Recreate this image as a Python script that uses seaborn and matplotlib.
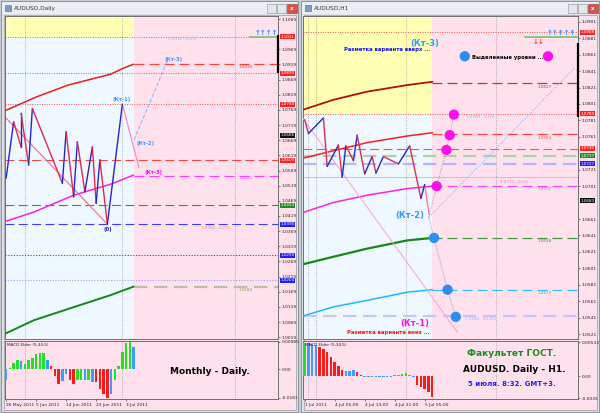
import matplotlib

matplotlib.use("Agg")

import matplotlib.pyplot as plt
import matplotlib.transforms as mtransforms
import pandas as pd
import seaborn as sns
from matplotlib.patches import Rectangle

W, H = 600, 413

PINK = "#ffe1ee"
YELLOW = "#ffffb4"
ICE = "#eff7ff"
GRID = "#777777"
ZZ_UP = "#2626c8"
ZZ_DOWN = "#dc2a55"
IMPULSE_COLORS = {"g": "#22e022", "r": "#ff1a1a", "b": "#3b9cff"}

# ---------------- daily window ----------------
D_DATE_TICKS = [0, 8, 16, 24, 32]
D_DATE_LABELS = ["26 May 2011", "5 Jun 2011", "14 Jun 2011", "23 Jun 2011", "3 Jul 2011"]
D_GRID_X = [5, 31, 61]
# 1.1019 sits under the 1.1011 price tag in the original, so it is left out
D_PRICE_TICKS = [1.1069, 1.0969, 1.0919, 1.0869, 1.0819, 1.0769, 1.0719, 1.0669, 1.0619,
                 1.0569, 1.0519, 1.0469, 1.0419, 1.0369, 1.0319, 1.0269, 1.0219, 1.0169, 1.0119,
                 1.0069, 1.0019]

D_ZZ_X = [0, 2, 4, 4, 6, 7, 15, 16, 18, 19, 21, 23, 24, 25, 27, 31]
D_ZZ_Y = [1.0544, 1.0730, 1.0647, 1.0758, 1.0587, 1.0774, 1.0527, 1.0697, 1.0482, 1.0664,
          1.0499, 1.0647, 1.0461, 1.0604, 1.0392, 1.0788]

D_RED_X = [0, 7.9, 16.5, 27.9, 31.1, 34]
D_RED_Y = [1.0768, 1.0811, 1.0851, 1.0887, 1.0906, 1.0920]
D_MAG_X = [0, 7.4, 18.1, 27.9, 34]
D_MAG_Y = [1.0402, 1.0432, 1.0488, 1.0524, 1.0554]
D_GRN_X = [0, 7.4, 16.5, 27.9, 34]
D_GRN_Y = [1.0032, 1.0075, 1.0112, 1.0158, 1.0186]

D_TREND_X = [0, 27]
D_TREND_Y = [1.0742, 1.0392]
D_PROJ_X = [31, 33, 35.4]
D_PROJ_Y = [1.0788, 1.0693, 1.0580]
D_UPLEG_X = [34.1, 43.1]
D_UPLEG_Y = [1.0670, 1.0934]

D_MACD = [-0.0040, 0.0004, 0.0023, 0.0033, 0.0030, 0.0018, 0.0035, 0.0039, 0.0055, 0.0060,
          0.0060, 0.0033, 0.0012, -0.0026, -0.0052, -0.0044, -0.0016, -0.0038, -0.0052, -0.0038,
          -0.0038, -0.0040, -0.0038, -0.0046, -0.0046, -0.0071, -0.0089, -0.0103, -0.0089, -0.0038,
          0.0011, 0.0063, 0.0094, 0.0100, 0.0081]
D_IMPULSE = ["b", "g", "g", "g", "b", "g", "g", "g", "g", "g",
             "g", "b", "r", "r", "r", "b", "b", "r", "r", "g",
             "g", "b", "g", "b", "r", "r", "r", "r", "b", "g",
             "g", "g", "g", "g", "b"]

# ---------------- H1 window ----------------
H_DATE_TICKS = [0, 8, 16, 24, 32]
H_DATE_LABELS = ["1 Jul 2011", "4 Jul 05:00", "4 Jul 13:00", "4 Jul 21:00", "5 Jul 05:00"]
H_GRID_X = [1, 3, 27, 51]
# 1.0741 and 1.0681 are hidden under price tags in the original
H_PRICE_TICKS = [1.0901, 1.0881, 1.0861, 1.0841, 1.0821, 1.0801, 1.0781, 1.0761, 1.0721,
                 1.0701, 1.0661, 1.0641, 1.0621, 1.0601, 1.0581, 1.0561, 1.0541, 1.0521]

H_ZZ_X = [0, 1, 5, 6, 9, 10, 11, 13, 14, 16, 18, 19, 21, 25, 28, 31, 32]
H_ZZ_Y = [1.0782, 1.0765, 1.0784, 1.0725, 1.0751, 1.0712, 1.0750, 1.0732, 1.0763, 1.0716,
          1.0737, 1.0717, 1.0737, 1.0728, 1.0750, 1.0686, 1.0703]

H_MA_X = [-0.4, 7.6, 16.7, 27.4, 34.1]
H_MAROON_Y = [1.0794, 1.0806, 1.0816, 1.0824, 1.0828]
H_RED_Y = [1.0735, 1.0744, 1.0754, 1.0762, 1.0766]
H_MAG_Y = [1.0669, 1.0681, 1.0690, 1.0698, 1.0701]
H_GRN_Y = [1.0606, 1.0615, 1.0625, 1.0635, 1.0638]
H_SKY_Y = [1.0543, 1.0554, 1.0562, 1.0572, 1.0575]

H_TREND_X = [-0.4, 40.8]
H_TREND_Y = [1.0783, 1.0523]
H_PROJ_X = [32, 33.2]
H_PROJ_Y = [1.0703, 1.0666]
H_UPLEG_X = [33.1, 72]
H_UPLEG_Y = [1.0663, 1.0845]
H_PATH_UP_X = [33.1, 35.2, 37.8, 38.7, 39.8]
H_PATH_UP_Y = [1.0663, 1.0701, 1.0745, 1.0763, 1.0788]
H_PATH_DN_X = [33.1, 34.5, 38.1, 40.3]
H_PATH_DN_Y = [1.0663, 1.0638, 1.0575, 1.0542]
H_MAG_DOT_X = [35.2, 37.8, 38.7, 39.8, 64.9]
H_MAG_DOT_Y = [1.0701, 1.0745, 1.0763, 1.0788, 1.0859]
H_BLUE_DOT_X = [34.5, 38.1, 40.3, 42.7]
H_BLUE_DOT_Y = [1.0638, 1.0575, 1.0542, 1.0859]

H_MACD = [0.0052, 0.0052, 0.0050, 0.0048, 0.0046, 0.0043, 0.0038, 0.0030, 0.0022, 0.0016,
          0.0010, 0.0008, 0.0008, 0.0009, 0.0006, 0.0002, -0.0001, -0.0001, -0.0002, -0.0002,
          -0.0001, -0.0001, -0.0002, -0.0001, 0.0001, 0.0002, 0.0004, 0.0005, 0.0002, -0.0001,
          -0.0014, -0.0017, -0.0020, -0.0025, -0.0033]
H_IMPULSE = ["g", "b", "b", "b", "r", "r", "r", "r", "r", "r",
             "r", "b", "b", "b", "r", "r", "b", "b", "b", "b",
             "b", "b", "b", "b", "g", "g", "g", "g", "g", "b",
             "r", "r", "r", "r", "r"]

sns.set_theme(style="white")
plt.rcParams["font.family"] = ["DejaVu Sans"]

fig = plt.figure(figsize=(W / 100, H / 100), dpi=100)
fig.patch.set_facecolor("#c9ced6")


def px_box(x0, y0, x1, y1):
    return [x0 / W, 1 - y1 / H, (x1 - x0) / W, (y1 - y0) / H]


def fig_rect(x0, y0, x1, y1, **kw):
    l, b, w, h = px_box(x0, y0, x1, y1)
    fig.add_artist(Rectangle((l, b), w, h, transform=fig.transFigure, zorder=-5, **kw))


def fig_text(x, y, s, **kw):
    fig.text(x / W, 1 - y / H, s, zorder=10, **kw)


# window frames
for x0, x1, title in [(1, 298, "AUDUSD,Daily"), (301, 599, "AUDUSD,H1")]:
    fig_rect(x0, 1, x1, 412, facecolor="#dde2e8", edgecolor="#7f8894", lw=0.6)
    fig_rect(x0 + 1, 2, x1 - 1, 14, facecolor="#eaeef3", edgecolor="none")
    fig_rect(x0 + 3, 15, x1 - 2, 410, facecolor=PINK, edgecolor="#9a9a9a", lw=0.5)
    fig_rect(x0 + 4, 5, x0 + 10, 11, facecolor="#7b9cc8", edgecolor="#4a6a98", lw=0.4)
    fig_text(x0 + 13, 8.5, title, fontsize=4.2, color="#333333", va="center")
    fig_rect(x1 - 31, 4, x1 - 22, 13, facecolor="#e4e8ee", edgecolor="#8a8f96", lw=0.4)
    fig_rect(x1 - 21, 4, x1 - 12, 13, facecolor="#e4e8ee", edgecolor="#8a8f96", lw=0.4)
    fig_rect(x1 - 11, 4, x1 - 1, 13, facecolor="#d9534a", edgecolor="#8a3a30", lw=0.4)
    fig_text(x1 - 6, 8.5, "x", fontsize=4, color="white", ha="center", va="center", weight="bold")

axd = fig.add_axes(px_box(5, 16, 278, 339))
axdm = fig.add_axes(px_box(5, 341, 278, 399))
axh = fig.add_axes(px_box(303, 16, 578, 339))
axhm = fig.add_axes(px_box(303, 341, 578, 399))


def style_axes(ax):
    ax.set_facecolor(PINK)
    for s in ax.spines.values():
        s.set_color("#6e6e6e")
        s.set_linewidth(0.7)
    ax.yaxis.tick_right()
    ax.tick_params(axis="both", labelsize=3.2, length=1.5, width=0.4, pad=1.2,
                   colors="#222222", left=False, right=True, bottom=True)


def level(ax, y, color, ls, lw=0.7, start=None):
    x0, x1 = ax.get_xlim()
    ax.hlines(y, x0 if start is None else start, x1, colors=color, linestyles=ls, lw=lw, zorder=2)


def price_tag(ax, y, text, color):
    tr = mtransforms.blended_transform_factory(ax.transAxes, ax.transData)
    ax.text(1.008, y, text, transform=tr, fontsize=3.0, color="white", va="center", ha="left",
            bbox=dict(boxstyle="square,pad=0.12", fc=color, ec="none"), clip_on=False, zorder=6)


def zigzag(ax, xs, ys):
    for i in range(len(xs) - 1):
        c = ZZ_UP if ys[i + 1] > ys[i] else ZZ_DOWN
        ax.plot(xs[i:i + 2], ys[i:i + 2], color=c, lw=1.0, zorder=4)


def macd(ax, values, impulse, ylim, ticks, labels, xticks, xlabels, xlim, grid):
    df = pd.DataFrame({"bar": range(len(values)), "macd": values, "impulse": impulse})
    ax.bar(df["bar"], df["macd"], width=0.65, color=df["impulse"].map(IMPULSE_COLORS),
           linewidth=0, zorder=3)
    style_axes(ax)
    ax.set_xlim(*xlim)
    ax.set_ylim(*ylim)
    ax.set_yticks(ticks, labels)
    ax.set_xticks(xticks, xlabels)
    for lbl in ax.get_xticklabels():
        lbl.set_ha("left")
    for x in grid:
        ax.axvline(x, color=GRID, ls=(0, (1, 2)), lw=0.5, zorder=1)
    ax.text(0.008, 0.96, "MACD Elder (5,34,5)", transform=ax.transAxes, fontsize=3,
            va="top", color="#222222")


def price_frame(ax, xlim, ylim, ticks, split, grid):
    style_axes(ax)
    ax.set_xlim(*xlim)
    ax.set_ylim(*ylim)
    ax.set_yticks(ticks, [f"{t:.4f}" for t in ticks])
    ax.set_xticks([])
    ax.fill_between([xlim[0], 34.0], split, ylim[1], color=YELLOW, zorder=0, lw=0)
    ax.fill_between([xlim[0], 34.0], ylim[0], split, color=ICE, zorder=0, lw=0)
    for x in grid:
        ax.axvline(x, color=GRID, ls=(0, (1, 2)), lw=0.5, zorder=1)


# ================= daily chart =================
D_XLIM = (-0.3, 72.5)
price_frame(axd, D_XLIM, (1.0013, 1.1079), D_PRICE_TICKS, 1.1011, D_GRID_X)

level(axd, 1.1011, "#ff5050", (0, (1, 1.5)))
level(axd, 1.0890, "#ff5050", (0, (1, 1.5)))
level(axd, 1.0788, "#ff5050", (0, (1, 1.5)))
level(axd, 1.0603, "#ff4040", (0, (8, 4)), lw=0.8)
level(axd, 1.0455, "#2f9a2f", (0, (8, 4)), lw=0.8)
level(axd, 1.0392, "#3b3bff", (0, (8, 4)), lw=0.8)
level(axd, 1.0290, "#3b3bff", (0, (1, 1.5)), lw=0.8)
level(axd, 1.0207, "#9c9cff", (0, (1, 1.5)), lw=0.8)
level(axd, 1.0920, "#ff4040", (0, (8, 4)), lw=0.9, start=34)
level(axd, 1.0551, "#ff40ff", (0, (8, 4)), lw=0.9, start=34)
level(axd, 1.0186, "#b9bfae", (0, (6, 3)), lw=1.6, start=34)
axd.hlines(1.1011, 64.8, D_XLIM[1], colors="#88c070", lw=1.3, zorder=3)

sns.lineplot(x=D_RED_X, y=D_RED_Y, color="#ee1c1c", lw=1.1, ax=axd, zorder=3)
sns.lineplot(x=D_MAG_X, y=D_MAG_Y, color="#ff20e0", lw=1.1, ax=axd, zorder=3)
sns.lineplot(x=D_GRN_X, y=D_GRN_Y, color="#138a13", lw=1.4, ax=axd, zorder=3)
axd.plot(D_TREND_X, D_TREND_Y, color="#f06a9a", lw=0.8, zorder=3)
zigzag(axd, D_ZZ_X, D_ZZ_Y)
axd.plot(D_PROJ_X, D_PROJ_Y, color="#ff8ab8", lw=0.9, zorder=3)
axd.plot(D_UPLEG_X, D_UPLEG_Y, color="#7fb2ff", lw=0.7, ls=(0, (4, 2)), zorder=3)

kt = dict(fontsize=3.8, weight="bold", ha="center", va="center", zorder=5)
axd.text(30.9, 1.0805, "(Кт-1)", color="#3399ff", **kt)
axd.text(37.3, 1.0659, "(Кт-2)", color="#3399ff", **kt)
axd.text(44.7, 1.0934, "(Кт-3)", color="#3399ff", **kt)
axd.text(39.4, 1.0564, "(Кт-3)", color="#ff00ff", **kt)
axd.text(27.1, 1.0375, "(0)", color="#1a1acc", **kt)
small = dict(fontsize=3, ha="left", va="center", zorder=5)
axd.text(43.1, 1.1003, "1.1011 - 0.0%", color="#8ab4ff", **small)
axd.text(62.1, 1.0910, "1.0918", color="#ff4040", **small)
axd.text(62.1, 1.0544, "1.0551", color="#ff40ff", **small)
axd.text(51.9, 1.0379, "1.0390 - 0.0%", color="#ff70b0", **small)
axd.text(62.1, 1.0174, "1.0184", color="#7f9a4f", **small)
axd.text(69.3, 1.1012, "↑↑↑↑", color="#2a8cff", fontsize=5, weight="bold",
         ha="center", va="bottom", zorder=5)
axd.vlines(D_XLIM[1], 1.0891, 1.1016, colors="black", lw=1.6, clip_on=False, zorder=6)

price_tag(axd, 1.1011, "1.1011", "#ff2020")
price_tag(axd, 1.0890, "1.0890", "#ff2020")
price_tag(axd, 1.0788, "1.0788", "#ff2020")
price_tag(axd, 1.0686, "1.0686", "#111111")
price_tag(axd, 1.0603, "1.0603", "#ff2020")
price_tag(axd, 1.0455, "1.0454", "#1f8f1f")
price_tag(axd, 1.0392, "1.0390", "#2020ff")
price_tag(axd, 1.0290, "1.0290", "#2020ff")
price_tag(axd, 1.0207, "1.0204", "#2020ff")

macd(axdm, D_MACD, D_IMPULSE, (-0.0108, 0.0102), [0.0099, 0.0, -0.0104],
     ["0.00985", "0.00", "-0.0181"], D_DATE_TICKS, D_DATE_LABELS, D_XLIM, D_GRID_X)

# ================= H1 chart =================
H_XLIM = (-0.45, 72.9)
price_frame(axh, H_XLIM, (1.0515, 1.0908), H_PRICE_TICKS, 1.0789, H_GRID_X)

level(axh, 1.0888, "#ff5050", (0, (1, 1.5)))
level(axh, 1.0789, "#ff5050", (0, (1, 1.5)))
level(axh, 1.0746, "#ff5050", (0, (8, 4)), lw=0.8)
level(axh, 1.0738, "#a6d6a6", (0, (6, 3)), lw=1.6)
level(axh, 1.0728, "#b4b4ff", (0, (6, 3)), lw=1.6)
level(axh, 1.0712, "#ff9cc4", "-", lw=0.6)
level(axh, 1.0543, "#c4c4ff", (0, (6, 3)), lw=1.6)
level(axh, 1.0827, "#d03030", (0, (8, 4)), lw=0.9, start=34)
level(axh, 1.0764, "#ff4040", (0, (8, 4)), lw=0.9, start=34)
level(axh, 1.0701, "#ff40ff", (0, (8, 4)), lw=0.9, start=34)
level(axh, 1.0638, "#3aa03a", (0, (8, 4)), lw=0.9, start=34)
level(axh, 1.0575, "#33c0ff", (0, (8, 4)), lw=0.9, start=34)
axh.hlines(1.0883, 58.4, H_XLIM[1], colors="#88c878", lw=1.4, zorder=3)

sns.lineplot(x=H_MA_X, y=H_MAROON_Y, color="#b01010", lw=1.3, ax=axh, zorder=3)
sns.lineplot(x=H_MA_X, y=H_RED_Y, color="#ff1c1c", lw=1.1, ax=axh, zorder=3)
sns.lineplot(x=H_MA_X, y=H_MAG_Y, color="#ff20e0", lw=1.1, ax=axh, zorder=3)
sns.lineplot(x=H_MA_X, y=H_GRN_Y, color="#138a13", lw=1.6, ax=axh, zorder=3)
sns.lineplot(x=H_MA_X, y=H_SKY_Y, color="#22b8ff", lw=1.1, ax=axh, zorder=3)
axh.plot(H_TREND_X, H_TREND_Y, color="#ffa0c8", lw=0.7, zorder=3)
zigzag(axh, H_ZZ_X, H_ZZ_Y)
axh.plot(H_PROJ_X, H_PROJ_Y, color="#ff6aa0", lw=0.9, zorder=3)
axh.plot(H_UPLEG_X, H_UPLEG_Y, color="#8ab8ff", lw=0.7, ls=(0, (1.5, 1.5)), zorder=3)
axh.plot(H_PATH_UP_X, H_PATH_UP_Y, color="#888888", lw=0.6, ls=(0, (1, 1.5)), zorder=3)
axh.plot(H_PATH_DN_X, H_PATH_DN_Y, color="#888888", lw=0.6, ls=(0, (1, 1.5)), zorder=3)
sns.scatterplot(x=H_MAG_DOT_X, y=H_MAG_DOT_Y, color="#ff10e8", s=55, edgecolor="none",
                ax=axh, zorder=5)
sns.scatterplot(x=H_BLUE_DOT_X, y=H_BLUE_DOT_Y, color="#2a90f0", s=55, edgecolor="none",
                ax=axh, zorder=5)

big = dict(fontsize=6, weight="bold", ha="center", va="center", zorder=6)
axh.text(32.1, 1.0875, "(Кт-3)", color="#3399ff", **big)
axh.text(28.1, 1.0665, "(Кт-2)", color="#3399ff", **big)
axh.text(29.4, 1.0534, "(Кт-1)", color="#ff10e8", **big)
axh.text(22.0, 1.0867, "Разметка варианта вверх ...", color="#1010ee", fontsize=3.8,
         weight="bold", ha="center", va="center", zorder=6)
axh.text(22.2, 1.0523, "Разметка варианта вниз ...", color="#ff1010", fontsize=3.8,
         weight="bold", ha="center", va="center", zorder=6)
axh.text(44.6, 1.0858, "Выделенные уровни ...", color="black", fontsize=3.8,
         weight="bold", ha="left", va="center", zorder=6)
axh.text(43.0, 1.0785, "1.0789 - 0.0%", color="#8ab4ff", **small)
axh.text(62.2, 1.0822, "1.0827", color="#d03030", **small)
axh.text(62.2, 1.0760, "1.0764", color="#ff4040", **small)
axh.text(52.1, 1.0706, "1.0712 - 0.0%", color="#ff70b0", **small)
axh.text(62.2, 1.0697, "1.0701", color="#ff40ff", **small)
axh.text(62.2, 1.0634, "1.0638", color="#3aa03a", **small)
axh.text(62.2, 1.0571, "1.0575", color="#33a8ff", **small)
axh.text(42.7, 1.0539, "1.0542 - 61.8%", color="#a8a8ff", **small)
axh.text(68.4, 1.0884, "↑↑↑↑↑", color="#2a8cff", fontsize=5, weight="bold",
         ha="center", va="bottom", zorder=5)
axh.text(62.3, 1.0876, "↓↓", color="#ff4020", fontsize=5, weight="bold",
         ha="center", va="center", zorder=5)
axh.vlines(H_XLIM[1], 1.0785, 1.0875, colors="black", lw=1.6, clip_on=False, zorder=6)

price_tag(axh, 1.0888, "1.0888", "#ff2020")
price_tag(axh, 1.0789, "1.0789", "#ff2020")
price_tag(axh, 1.0747, "1.0746", "#ff2020")
price_tag(axh, 1.0738, "1.0737", "#1f8f1f")
price_tag(axh, 1.0728, "1.0727", "#2020ff")
price_tag(axh, 1.0683, "1.0683", "#111111")

macd(axhm, H_MACD, H_IMPULSE, (-0.0036, 0.0055), [0.00532, 0.0, -0.0035],
     ["0.00532", "0.00", "-0.0035"], H_DATE_TICKS, H_DATE_LABELS, H_XLIM, H_GRID_X)

# captions
fig_text(210, 371, "Monthly - Daily.", fontsize=6.5, weight="bold", color="black",
         ha="center", va="center")
fig_text(512, 353, "Факультет ГОСТ.", fontsize=6.5, weight="bold", color="#1a8a1a",
         ha="center", va="center")
fig_text(514, 369, "AUDUSD. Daily - H1.", fontsize=6.5, weight="bold", color="black",
         ha="center", va="center")
fig_text(512, 384, "5 июля. 8:32. GMT+3.", fontsize=5, weight="bold", color="#1f1fff",
         ha="center", va="center")

fig.savefig("out.png", dpi=100, facecolor=fig.get_facecolor())
